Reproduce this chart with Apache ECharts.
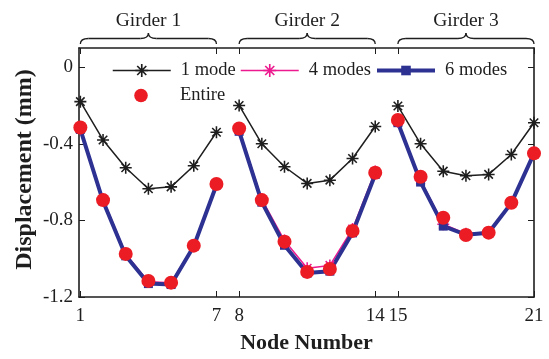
<!DOCTYPE html>
<html>
<head>
<meta charset="utf-8">
<script src="https://cdn.jsdelivr.net/npm/echarts@6/dist/echarts.min.js"></script>
<style>
  html, body { margin: 0; padding: 0; background: #fff; }
  #chart { width: 549px; height: 359px; }
</style>
</head>
<body>
<div id="chart"></div>
<script>
// node displacement, three girders side by side
const girders = ['Girder 1', 'Girder 2', 'Girder 3'];
const girderNodes = [
  [1, 2, 3, 4, 5, 6, 7],
  [8, 9, 10, 11, 12, 13, 14],
  [15, 16, 17, 18, 19, 20, 21]
];
const nodeTicks = [1, 7, 8, 14, 15, 21];
const dispTicks = [-1.2, -0.8, -0.4, 0];

// values indexed by node (1..21)
const mode1 = [-0.18, -0.38, -0.525, -0.635, -0.625, -0.515, -0.34,
               -0.2, -0.4, -0.52, -0.607, -0.59, -0.477, -0.31,
               -0.203, -0.4, -0.543, -0.567, -0.56, -0.456, -0.29];
const mode4 = [-0.32, -0.69, -0.975, -1.12, -1.125, -0.93, -0.61,
               -0.325, -0.69, -0.905, -1.05, -1.035, -0.845, -0.545,
               -0.285, -0.59, -0.82, -0.87, -0.86, -0.705, -0.445];
const mode6 = [-0.325, -0.7, -0.985, -1.13, -1.135, -0.935, -0.615,
               -0.335, -0.705, -0.93, -1.075, -1.065, -0.865, -0.56,
               -0.29, -0.6, -0.83, -0.875, -0.865, -0.71, -0.45];
const entire = [-0.315, -0.694, -0.975, -1.116, -1.125, -0.932, -0.61,
                -0.32, -0.694, -0.911, -1.069, -1.054, -0.855, -0.551,
                -0.276, -0.572, -0.786, -0.876, -0.864, -0.708, -0.45];

const serif = 'Liberation Serif';
const ink = '#1e1e1e';
// matlab-like '*' marker
const asterisk = 'path://M43.5 0L56.5 0L56.5 100L43.5 100Z' +
  'M0 43.5L100 43.5L100 56.5L0 56.5Z' +
  'M19.24 10.04L89.96 80.76L80.76 89.96L10.04 19.24Z' +
  'M10.04 80.76L80.76 10.04L89.96 19.24L19.24 89.96Z';

const styles = [
  { name: '1 mode', values: mode1, color: ink, width: 1.5, symbol: asterisk, size: 12 },
  { name: '4 modes', values: mode4, color: '#ec1a8e', width: 1.5, symbol: asterisk, size: 12 },
  { name: '6 modes', values: mode6, color: '#2d3192', width: 4, symbol: 'rect', size: 9 },
  { name: 'Entire', values: entire, color: '#ec1c24', width: 0, symbol: 'circle', size: 14 }
];

const series = [];
styles.forEach(s => {
  girderNodes.forEach(nodes => {
    series.push({
      name: s.name,
      type: 'line',
      data: nodes.map(n => [n, s.values[n - 1]]),
      symbol: s.symbol,
      symbolSize: s.size,
      itemStyle: { color: s.color },
      lineStyle: { color: s.color, width: s.width, opacity: s.width ? 1 : 0 },
      animation: false,
      z: 2
    });
  });
});

const legendText = { fontFamily: serif, fontSize: 18.5, color: ink, padding: [0, 0, 0, 5] };
function legendAt(idx, left, top, h) {
  const s = styles[idx];
  return {
    data: [{ name: s.name, lineStyle: { width: s.width, opacity: s.width ? 1 : 0 } }],
    left: left, top: top, orient: 'horizontal', padding: 0,
    itemWidth: 58, itemHeight: h, textStyle: legendText, selectedMode: false
  };
}

const axisLine = { show: true, onZero: false, lineStyle: { color: ink, width: 1.6 } };
const tickStyle = { color: ink, width: 1 };

const option = {
  backgroundColor: '#fff',
  grid: { left: 79, right: 15, top: 48, bottom: 62 },
  legend: [
    legendAt(0, 112, 61, 16),
    legendAt(1, 240, 61, 16),
    legendAt(2, 375, 61, 12),
    legendAt(3, 112, 86, 17)
  ],
  xAxis: [{
    type: 'value', position: 'bottom', min: 0.94, max: 21,
    axisLine: axisLine,
    axisTick: { show: true, inside: true, length: 6, customValues: nodeTicks, lineStyle: tickStyle },
    axisLabel: { customValues: nodeTicks, fontFamily: serif, fontSize: 19, color: ink, margin: 10 },
    splitLine: { show: false },
    name: 'Node Number', nameLocation: 'middle', nameGap: 35, nameMoveOverlap: false,
    nameTextStyle: { fontFamily: serif, fontWeight: 'bold', fontSize: 22, color: ink }
  }, {
    type: 'value', position: 'top', min: 0.94, max: 21,
    axisLine: axisLine,
    axisTick: { show: true, inside: true, length: 6, customValues: nodeTicks, lineStyle: tickStyle },
    axisLabel: { show: false },
    splitLine: { show: false }
  }],
  yAxis: [{
    type: 'value', position: 'left', min: -1.2, max: 0.1, interval: 0.4,
    axisLine: axisLine,
    axisTick: { show: true, inside: true, length: 6, customValues: dispTicks, lineStyle: tickStyle },
    axisLabel: { customValues: dispTicks, fontFamily: serif, fontSize: 19, color: ink, margin: 6 },
    splitLine: { show: false },
    name: 'Displacement (mm)', nameLocation: 'middle', nameGap: 42, nameRotate: 90, nameMoveOverlap: false,
    nameTextStyle: { fontFamily: serif, fontWeight: 'bold', fontSize: 24, color: ink, padding: [0, 0, 0, 6] }
  }, {
    type: 'value', position: 'right', min: -1.2, max: 0.1, interval: 0.4,
    axisLine: axisLine,
    axisTick: { show: true, inside: true, length: 6, customValues: dispTicks, lineStyle: tickStyle },
    axisLabel: { show: false },
    splitLine: { show: false }
  }],
  series: series
};

const chart = echarts.init(document.getElementById('chart'));
chart.setOption(option);

// curly braces with girder names above the frame
const graphics = [];
const y0 = 44, y1 = 38.5, y2 = 33, r = 8;
const braceStyle = { stroke: ink, lineWidth: 1.3, fill: null };
girderNodes.forEach((nodes, g) => {
  const xa = chart.convertToPixel({ xAxisIndex: 0 }, nodes[0]);
  const xb = chart.convertToPixel({ xAxisIndex: 0 }, nodes[nodes.length - 1]);
  const xm = (xa + xb) / 2;
  graphics.push(
    { type: 'bezierCurve', shape: { x1: xa, y1: y0, cpx1: xa, cpy1: y1, x2: xa + r, y2: y1 }, style: braceStyle },
    { type: 'line', shape: { x1: xa + r, y1: y1, x2: xm - r, y2: y1 }, style: braceStyle },
    { type: 'bezierCurve', shape: { x1: xm - r, y1: y1, cpx1: xm, cpy1: y1, x2: xm, y2: y2 }, style: braceStyle },
    { type: 'bezierCurve', shape: { x1: xm, y1: y2, cpx1: xm, cpy1: y1, x2: xm + r, y2: y1 }, style: braceStyle },
    { type: 'line', shape: { x1: xm + r, y1: y1, x2: xb - r, y2: y1 }, style: braceStyle },
    { type: 'bezierCurve', shape: { x1: xb - r, y1: y1, cpx1: xb, cpy1: y1, x2: xb, y2: y0 }, style: braceStyle },
    {
      type: 'text', x: xm, y: 21,
      style: { text: girders[g], fontFamily: serif, fontSize: 19.5, fill: ink, align: 'center', verticalAlign: 'middle' }
    }
  );
});
chart.setOption({ graphic: graphics });
</script>
</body>
</html>
